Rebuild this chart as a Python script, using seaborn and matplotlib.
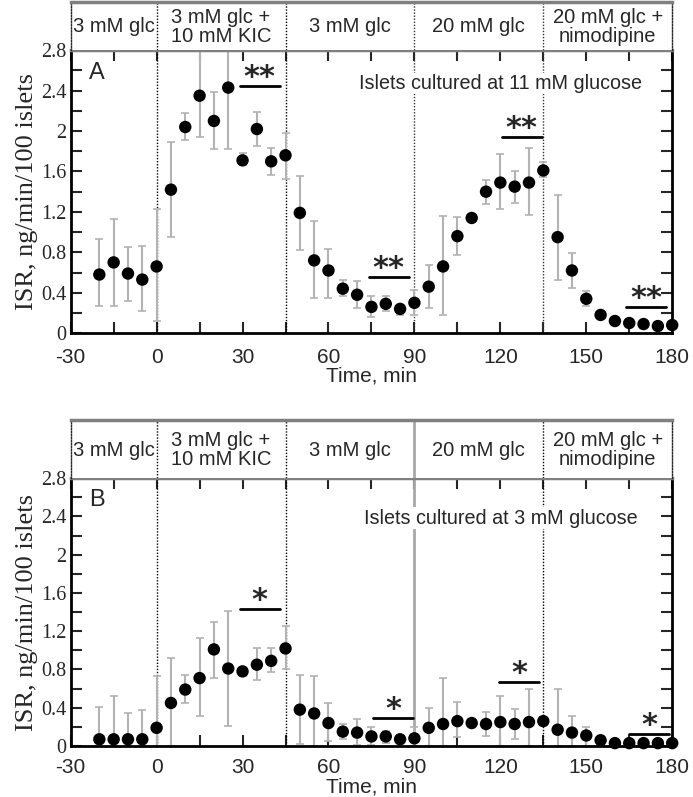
import numpy as np
import pandas as pd
import matplotlib
matplotlib.use('Agg')
import matplotlib.pyplot as plt
import seaborn as sns
from matplotlib.ticker import MultipleLocator

sns.set_style('ticks')
plt.rcParams['font.family'] = ['Liberation Sans', 'DejaVu Sans']

# sampling times (min)
times = [-20, -15, -10, -5, 0, 5, 10, 15, 20, 25, 30, 35, 40, 45, 50, 55, 60, 65, 70,
         75, 80, 85, 90, 95, 100, 105, 110, 115, 120, 125, 130, 135, 140, 145, 150,
         155, 160, 165, 170, 175, 180]

# panel A: islets cultured at 11 mM glucose
isr_a = [0.58, 0.70, 0.59, 0.53, 0.66, 1.42, 2.04, 2.35, 2.10, 2.43, 1.71, 2.02, 1.70, 1.76,
         1.19, 0.72, 0.62, 0.44, 0.38, 0.26, 0.29, 0.24, 0.30, 0.46, 0.66, 0.96, 1.14, 1.40,
         1.49, 1.45, 1.49, 1.61, 0.95, 0.62, 0.34, 0.18, 0.12, 0.10, 0.09, 0.07, 0.08]
lo_a = [0.27, 0.27, 0.32, 0.22, 0.12, 0.95, 1.91, 1.94, 1.82, 1.82, 1.66, 1.85, 1.57, 1.53,
        0.82, 0.35, 0.35, 0.37, 0.25, 0.16, 0.22, 0.18, 0.18, 0.25, 0.18, 0.77, 1.14, 1.28,
        1.23, 1.29, 1.17, 1.55, 0.53, 0.45, 0.27, 0.18, 0.12, 0.10, 0.09, 0.07, 0.08]
hi_a = [0.93, 1.13, 0.85, 0.86, 1.23, 1.89, 2.18, 2.80, 2.39, 3.00, 1.78, 2.19, 1.83, 1.98,
        1.56, 1.11, 0.83, 0.53, 0.52, 0.37, 0.37, 0.28, 0.43, 0.67, 1.16, 1.15, 1.14, 1.52,
        1.77, 1.60, 1.83, 1.69, 1.37, 0.79, 0.42, 0.18, 0.12, 0.10, 0.09, 0.07, 0.08]

# panel B: islets cultured at 3 mM glucose
isr_b = [0.07, 0.07, 0.07, 0.07, 0.19, 0.45, 0.59, 0.71, 1.01, 0.81, 0.78, 0.85, 0.89, 1.02,
         0.38, 0.34, 0.24, 0.15, 0.14, 0.10, 0.10, 0.07, 0.08, 0.19, 0.23, 0.26, 0.24, 0.23,
         0.25, 0.23, 0.25, 0.26, 0.17, 0.14, 0.11, 0.06, 0.03, 0.03, 0.03, 0.03, 0.03]
lo_b = [0.0, 0.0, 0.0, 0.0, 0.0, 0.0, 0.45, 0.31, 0.71, 0.21, 0.73, 0.69, 0.77, 0.80,
        0.02, 0.0, 0.05, 0.07, 0.01, 0.01, 0.03, 0.07, 0.0, 0.0, 0.0, 0.09, 0.24, 0.10,
        0.0, 0.07, 0.0, 0.22, 0.0, 0.0, 0.0, 0.06, 0.03, 0.03, 0.03, 0.03, 0.03]
hi_b = [0.41, 0.52, 0.34, 0.38, 0.73, 0.92, 0.74, 1.13, 1.30, 1.41, 0.82, 1.02, 1.02, 1.25,
        0.74, 0.73, 0.45, 0.23, 0.28, 0.20, 0.16, 0.07, 0.20, 0.40, 0.71, 0.46, 0.24, 0.36,
        0.52, 0.39, 0.60, 0.30, 0.60, 0.31, 0.20, 0.06, 0.03, 0.03, 0.03, 0.03, 0.03]

phase_edges = [-30, 0, 45, 90, 135, 180]
phase_labels = ['3 mM glc', '3 mM glc +\n10 mM KIC', '3 mM glc', '20 mM glc',
                '20 mM glc +\nnimodipine']

# significance bars: (start, end, y, marks)
sig_a = [(29, 43, 2.45, '**'), (74, 88, 0.56, '**'), (120.5, 134.5, 1.94, '**'),
         (164, 178, 0.26, '**')]
sig_b = [(29, 43, 1.43, '*'), (75.5, 89.5, 0.29, '*'), (119.5, 133.5, 0.67, '*'),
         (165, 179, 0.13, '*')]

df_a = pd.DataFrame({'time': times, 'isr': isr_a, 'lo': lo_a, 'hi': hi_a})
df_b = pd.DataFrame({'time': times, 'isr': isr_b, 'lo': lo_b, 'hi': hi_b})

fig = plt.figure(figsize=(6.93, 7.97), dpi=100)

dotted = (0, (1, 1.2))


def panel(df, sig, plot_rect, head_rect, letter, note, note_y, line_styles,
          xpad, xlabpad):
    ax = fig.add_axes(plot_rect)
    hd = fig.add_axes(head_rect)

    # error bars
    ax.errorbar(df.time, df.isr, yerr=[df.isr - df.lo, df.hi - df.isr], fmt='none',
                ecolor='#b3b3b3', elinewidth=1.5, capsize=3, capthick=1.2, zorder=2)
    sns.scatterplot(data=df, x='time', y='isr', ax=ax, color='black', s=80,
                    edgecolor='none', zorder=4, clip_on=False, legend=False)

    # phase separators
    for xv, (ls, col, lw) in zip(phase_edges[1:-1], line_styles):
        ax.axvline(xv, color=col, ls=ls, lw=lw, zorder=1)
        hd.axvline(xv, color=col, ls=ls, lw=lw)

    for x0, x1, yv, mk in sig:
        ax.plot([x0, x1], [yv, yv], color='black', lw=2, zorder=5)
        ax.annotate(mk, ((x0 + x1) / 2, yv), xytext=(0, 0), textcoords='offset points',
                    ha='center', va='baseline', fontsize=22, fontweight='bold',
                    family='DejaVu Sans', zorder=5)

    ax.text(-21, 2.57, letter, fontsize=17, ha='center', va='center')
    ax.text(120, note_y, note, fontsize=14.2, ha='center', va='center', zorder=3,
            bbox=dict(facecolor='white', edgecolor='none', pad=1))

    ax.set_xlim(-30, 180)
    ax.set_ylim(0, 2.8)
    ax.xaxis.set_major_locator(MultipleLocator(30))
    ax.xaxis.set_minor_locator(MultipleLocator(15))
    ax.yaxis.set_major_locator(MultipleLocator(0.4))
    ax.yaxis.set_minor_locator(MultipleLocator(0.2))
    ax.tick_params(which='both', direction='in', top=True, right=True, width=1.5)
    ax.tick_params(which='major', length=8)
    ax.tick_params(which='minor', length=8)
    ax.tick_params(axis='x', labelsize=15, pad=xpad)
    ax.tick_params(axis='y', labelsize=14.5, pad=3)
    ax.set_xticklabels([f'{int(v)}' for v in ax.get_xticks()])
    ax.set_yticklabels([f'{v:g}' for v in ax.get_yticks()], family='Liberation Serif')
    ax.set_xlabel('Time, min', fontsize=15, labelpad=xlabpad)
    ax.set_ylabel('ISR, ng/min/100 islets', fontsize=19, family='Liberation Serif',
                  labelpad=2)
    for side in ['left', 'bottom', 'right']:
        ax.spines[side].set_linewidth(2)
        ax.spines[side].set_color('black')
    ax.spines['top'].set_linewidth(2.5)
    ax.spines['top'].set_color('#808080')

    hd.set_xlim(-30, 180)
    hd.set_ylim(0, 1)
    hd.set_xticks([])
    hd.set_yticks([])
    hd.spines['top'].set_linewidth(2.5)
    hd.spines['top'].set_color('#808080')
    hd.spines['bottom'].set_visible(False)
    for side in ['left', 'right']:
        hd.spines[side].set_linestyle(dotted)
        hd.spines[side].set_linewidth(1)
    for i, lab in enumerate(phase_labels):
        hd.text((phase_edges[i] + phase_edges[i + 1]) / 2, 0.48, lab, ha='center',
                va='center', fontsize=14.5, linespacing=1.0)
    return ax


panel(df_a, sig_a, [0.102, 0.582, 0.868, 0.355], [0.102, 0.937, 0.868, 0.061], 'A',
      'Islets cultured at 11 mM glucose', 2.47,
      [(dotted, 'black', 1), (dotted, 'black', 1), (dotted, '#333333', 1),
       (dotted, '#333333', 1)], 10.5, 0)
panel(df_b, sig_b, [0.102, 0.064, 0.868, 0.336], [0.102, 0.400, 0.868, 0.073], 'B',
      'Islets cultured at 3 mM glucose', 2.38,
      [(dotted, 'black', 1), (dotted, 'black', 1), ('-', '#a8a8a8', 2),
       (dotted, 'black', 1)], 9, 0)

fig.savefig('out.png', dpi=100)
